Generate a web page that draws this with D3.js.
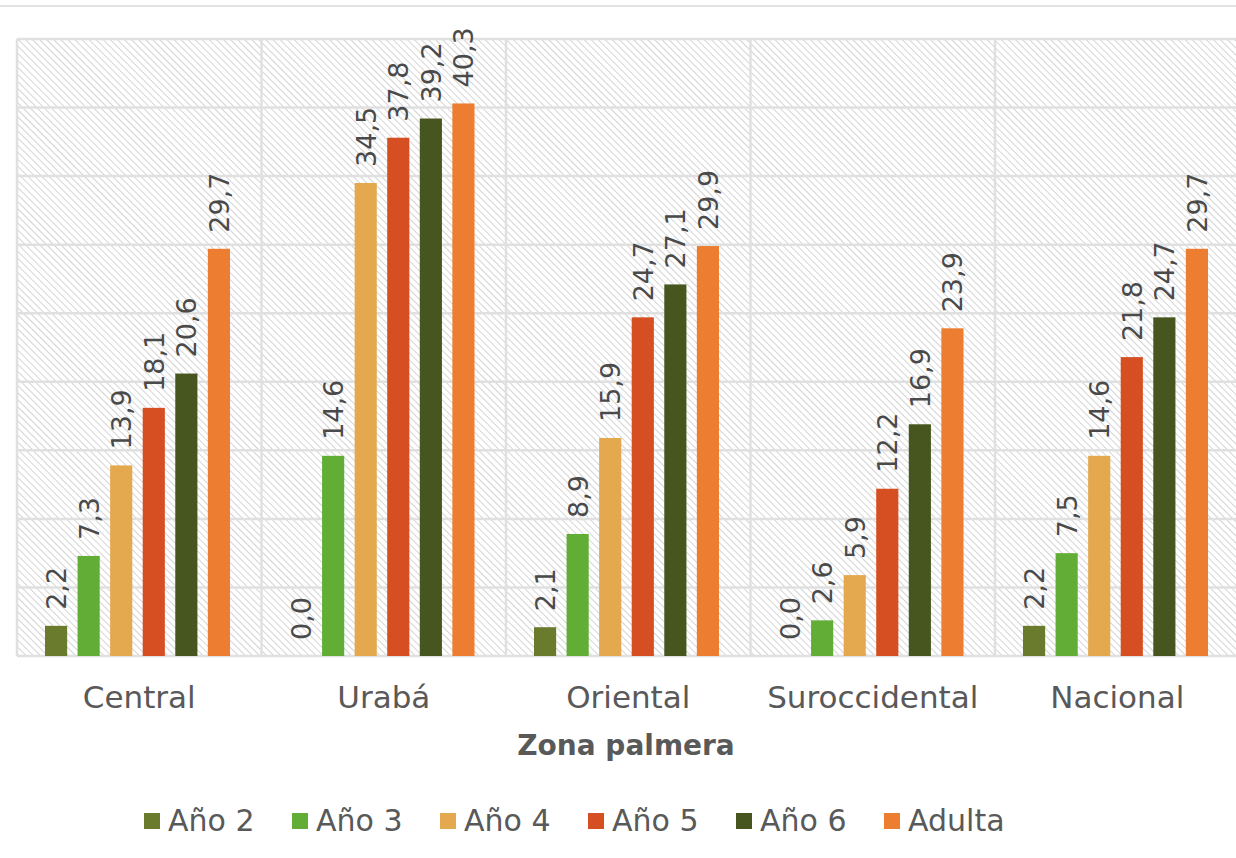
<!DOCTYPE html>
<html>
<head>
<meta charset="utf-8">
<script src="https://cdn.jsdelivr.net/npm/d3@7"></script>
<style>
  body { margin: 0; background: #fff; overflow: hidden; }
  text { font-family: "DejaVu Sans", sans-serif; }
</style>
</head>
<body>
<script>
// Zonas y series del grafico
const zonas = ["Central", "Urabá", "Oriental", "Suroccidental", "Nacional"];
const series = ["Año 2", "Año 3", "Año 4", "Año 5", "Año 6", "Adulta"];
const colores = ["#6b7b2e", "#62ad36", "#e4a94f", "#d64f22", "#47561f", "#ec7d31"];

const anio2 = [2.2, 0.0, 2.1, 0.0, 2.2];
const anio3 = [7.3, 14.6, 8.9, 2.6, 7.5];
const anio4 = [13.9, 34.5, 15.9, 5.9, 14.6];
const anio5 = [18.1, 37.8, 24.7, 12.2, 21.8];
const anio6 = [20.6, 39.2, 27.1, 16.9, 24.7];
const adulta = [29.7, 40.3, 29.9, 23.9, 29.7];
const valores = [anio2, anio3, anio4, anio5, anio6, adulta];

const yTicks = [0, 5, 10, 15, 20, 25, 30, 35, 40, 45];

// Area de trazado
const W = 1236, H = 858;
const mLeft = 17, mTop = 39, plotW = 1222.5, plotH = 617;

const svg = d3.select("body").append("svg")
  .attr("width", W)
  .attr("height", H);

// patron rayado del fondo
const defs = svg.append("defs");
const pat = defs.append("pattern")
  .attr("id", "rayas")
  .attr("patternUnits", "userSpaceOnUse")
  .attr("width", 5)
  .attr("height", 5)
  .attr("patternTransform", "rotate(-45)");
pat.append("rect").attr("width", 5).attr("height", 5).attr("fill", "#fff");
pat.append("line")
  .attr("x1", 0).attr("y1", 0).attr("x2", 0).attr("y2", 5)
  .attr("stroke", "#d4d4d4").attr("stroke-width", 2);

// linea de ventana arriba
svg.append("line")
  .attr("x1", 0).attr("x2", W).attr("y1", 6).attr("y2", 6)
  .attr("stroke", "#e2e2e2").attr("stroke-width", 2);

const g = svg.append("g").attr("transform", "translate(" + mLeft + "," + mTop + ")");

const x0 = d3.scaleBand().domain(zonas).range([0, plotW]);
const x1 = d3.scaleBand().domain(series).range([28, 213]).paddingInner(0.32).paddingOuter(0);
const y = d3.scaleLinear().domain([0, 45]).range([plotH, 0]);

g.append("rect")
  .attr("width", plotW).attr("height", plotH)
  .attr("fill", "url(#rayas)");

// lineas de cuadricula
g.selectAll(".hgrid").data(yTicks).enter().append("line")
  .attr("x1", 0).attr("x2", plotW)
  .attr("y1", d => y(d)).attr("y2", d => y(d))
  .attr("stroke", "#e0e0e0").attr("stroke-width", 2.5);

g.selectAll(".vgrid").data(zonas).enter().append("line")
  .attr("x1", d => x0(d)).attr("x2", d => x0(d))
  .attr("y1", 0).attr("y2", plotH)
  .attr("stroke", "#e0e0e0").attr("stroke-width", 2.5);

// barras
const grupos = g.selectAll(".grupo").data(zonas).enter().append("g")
  .attr("transform", d => "translate(" + x0(d) + ",0)");

grupos.each(function(z, i) {
  const datos = series.map((s, j) => ({ s: s, v: valores[j][i], c: colores[j] }));
  const sel = d3.select(this);
  sel.selectAll("rect").data(datos).enter().append("rect")
    .attr("x", d => x1(d.s))
    .attr("y", d => y(d.v))
    .attr("width", x1.bandwidth())
    .attr("height", d => plotH - y(d.v))
    .attr("fill", d => d.c);
  sel.selectAll("text").data(datos).enter().append("text")
    .attr("transform", d => "translate(" + (x1(d.s) + x1.bandwidth() / 2 + 10) + "," + (y(d.v) - 16) + ") rotate(-90)")
    .attr("text-anchor", "start")
    .style("font-size", "27px")
    .style("fill", "#4a4a4a")
    .text(d => d3.format(".1f")(d.v).replace(".", ","));
});

// etiquetas de categoria
g.append("g")
  .attr("transform", "translate(0," + plotH + ")")
  .call(d3.axisBottom(x0).tickSize(0).tickPadding(30))
  .call(a => a.select(".domain").remove())
  .selectAll("text")
  .style("font-size", "31px")
  .style("font-family", "'DejaVu Sans', sans-serif")
  .style("fill", "#595959");

// titulo del eje
svg.append("text")
  .attr("x", 626).attr("y", 755)
  .attr("text-anchor", "middle")
  .style("font-size", "28px")
  .style("font-weight", "bold")
  .style("fill", "#595959")
  .text("Zona palmera");

// leyenda
const legX = [144, 292, 440, 588, 736, 884];
const leg = svg.selectAll(".leg").data(series).enter().append("g")
  .attr("transform", (d, i) => "translate(" + legX[i] + ",813)");
leg.append("rect")
  .attr("x", 0).attr("y", 0).attr("width", 16).attr("height", 16)
  .attr("fill", (d, i) => colores[i]);
leg.append("text")
  .attr("x", 24).attr("y", 18)
  .style("font-size", "30px")
  .style("fill", "#595959")
  .text(d => d);
</script>
</body>
</html>
